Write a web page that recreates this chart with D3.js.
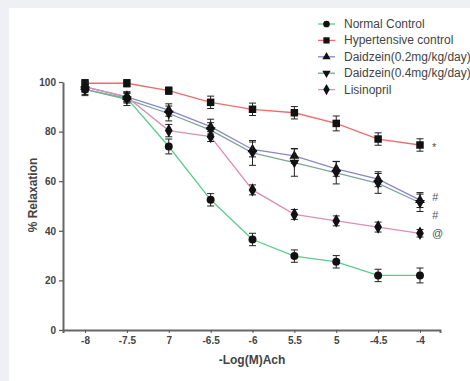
<!DOCTYPE html>
<html>
<head>
<meta charset="utf-8">
<script src="https://cdn.jsdelivr.net/npm/d3@7"></script>
<style>
  body { margin: 0; background: #eef0f3; overflow: hidden; }
  svg { display: block; }
</style>
</head>
<body>
<div id="chart"></div>
<script>
// concentrations and their printed labels (typos kept as in the figure)
const doses = [-8, -7.5, -7, -6.5, -6, -5.5, -5, -4.5, -4];
const doseLabels = ['-8', '-7.5', '7', '-6.5', '-6', '5.5', '5', '-4.5', '-4'];
const yTicks = [0, 20, 40, 60, 80, 100];

const seriesNames = ['Normal Control', 'Hypertensive control', 'Daidzein(0.2mg/kg/day)', 'Daidzein(0.4mg/kg/day)', 'Lisinopril'];
const normalControl = [97, 93.5, 74, 52.5, 36.5, 29.8, 27.5, 22, 22];
const normalErr = [2, 2, 3, 2.5, 2.5, 2.5, 2.5, 2.5, 3];
const hypertensive = [99.5, 99.5, 96.5, 91.8, 89, 87.6, 83.3, 77, 74.6];
const hypertensiveErr = [1.5, 1.5, 1.5, 2.5, 2.5, 2.5, 3, 2.5, 2.5];
const daidzein02 = [98, 94, 88.7, 82, 72.8, 70.2, 65, 60.8, 52.4];
const daidzein02Err = [2, 2, 2.5, 3, 3, 3, 3, 3, 3];
const daidzein04 = [97, 93, 87.3, 80.6, 71.4, 67.5, 63.4, 59.1, 51.3];
const daidzein04Err = [2.5, 2.5, 3, 3, 5, 5.5, 4.5, 4, 3.5];
const lisinopril = [98, 94, 80.4, 78, 56.5, 46.6, 44, 41.5, 39];
const lisinoprilErr = [2, 2, 2.5, 2, 2, 2, 2, 2, 1.5];
const notes = ['*', '#', '#', '@'];

const width = 470, height = 381;

const x = d3.scaleLinear().domain([-8.263, -3.761]).range([63, 440]);
const y = d3.scaleLinear().domain([0, 100]).range([330, 82]);

const svg = d3.select('#chart').append('svg')
    .attr('width', width)
    .attr('height', height)
    .style('font-family', '"Liberation Sans", Arial, sans-serif');

// white card on the grey page
svg.append('rect')
    .attr('x', 9).attr('y', 8)
    .attr('width', width - 9).attr('height', height - 8)
    .attr('fill', '#ffffff');

const series = [
    {name: seriesNames[0], values: normalControl, err: normalErr, color: '#5ccc8a', symbol: d3.symbolCircle, size: 50, rot: 0},
    {name: seriesNames[1], values: hypertensive, err: hypertensiveErr, color: '#f26a6a', symbol: d3.symbolSquare, size: 56, rot: 0},
    {name: seriesNames[2], values: daidzein02, err: daidzein02Err, color: '#8a86c6', symbol: d3.symbolTriangle, size: 42, rot: 0},
    {name: seriesNames[3], values: daidzein04, err: daidzein04Err, color: '#7fa49a', symbol: d3.symbolTriangle, size: 42, rot: 180},
    {name: seriesNames[4], values: lisinopril, err: lisinoprilErr, color: '#dc8fb6', symbol: d3.symbolDiamond, size: 52, rot: 0}
];

// X axis
const xAxis = svg.append('g')
    .attr('transform', 'translate(0,330)')
    .call(d3.axisBottom(x).tickValues(doses)
        .tickFormat((d, i) => doseLabels[i])
        .tickSize(3).tickPadding(4));
xAxis.select('.domain').attr('stroke', '#666').attr('stroke-width', 2);
xAxis.selectAll('.tick line').attr('stroke', '#555');
xAxis.selectAll('.tick text')
    .attr('fill', '#444')
    .style('font-size', '10px')
    .style('font-weight', 'bold');

// Y axis
const yAxis = svg.append('g')
    .attr('transform', 'translate(63,0)')
    .call(d3.axisLeft(y).tickValues(yTicks).tickSize(4).tickSizeOuter(0).tickPadding(3));
yAxis.select('.domain').attr('stroke', '#666').attr('stroke-width', 2);
yAxis.selectAll('.tick line').attr('stroke', '#555').attr('stroke-width', 1.2);
yAxis.selectAll('.tick text')
    .attr('fill', '#444')
    .style('font-size', '10px')
    .style('font-weight', 'bold');

// axis titles
svg.append('text')
    .attr('x', 252).attr('y', 364)
    .attr('text-anchor', 'middle')
    .attr('fill', '#444')
    .style('font-size', '12px')
    .style('font-weight', 'bold')
    .text('-Log(M)Ach');

svg.append('text')
    .attr('transform', 'translate(37,195) rotate(-90)')
    .attr('text-anchor', 'middle')
    .attr('fill', '#444')
    .style('font-size', '12px')
    .style('font-weight', 'bold')
    .text('% Relaxation');

const line = d3.line()
    .x((d, i) => x(doses[i]))
    .y(d => y(d));

// lines
series.forEach(s => {
    svg.append('path')
        .attr('d', line(s.values))
        .attr('fill', 'none')
        .attr('stroke', s.color)
        .attr('stroke-width', 1.3);
});

// error bars and markers
series.forEach(s => {
    const g = svg.append('g');
    s.values.forEach((v, i) => {
        const cx = x(doses[i]);
        const top = y(v + s.err[i]), bot = y(v - s.err[i]);
        g.append('line').attr('x1', cx).attr('x2', cx).attr('y1', top).attr('y2', bot)
            .attr('stroke', '#222').attr('stroke-width', 1);
        [top, bot].forEach(yy => {
            g.append('line').attr('x1', cx - 3.5).attr('x2', cx + 3.5).attr('y1', yy).attr('y2', yy)
                .attr('stroke', '#222').attr('stroke-width', 1);
        });
    });
    g.selectAll('path')
        .data(s.values)
        .enter().append('path')
        .attr('d', d3.symbol().type(s.symbol).size(s.size))
        .attr('transform', (d, i) => `translate(${x(doses[i])},${y(d)}) rotate(${s.rot})`)
        .attr('fill', '#111');
});

// significance marks at the last dose
const noteVals = [hypertensive[8], daidzein02[8], daidzein04[8], lisinopril[8]];
const noteDy = [2, -3, 12, 0];
notes.forEach((n, i) => {
    svg.append('text')
        .attr('x', x(-4) + 12)
        .attr('y', y(noteVals[i]) + 4 + noteDy[i])
        .attr('fill', '#555')
        .style('font-size', '11px')
        .style('font-style', n === '#' ? 'italic' : 'normal')
        .text(n);
});

// legend
const legend = svg.append('g').attr('transform', 'translate(318,24)');
series.forEach((s, i) => {
    const row = legend.append('g').attr('transform', `translate(0,${i * 16.4})`);
    row.append('line').attr('x1', 0).attr('x2', 17).attr('y1', 0).attr('y2', 0)
        .attr('stroke', s.color).attr('stroke-width', 1.3);
    row.append('path')
        .attr('d', d3.symbol().type(s.symbol).size(s.size * 0.7))
        .attr('transform', `translate(8.5,0) rotate(${s.rot})`)
        .attr('fill', '#111');
    row.append('text')
        .attr('x', 26).attr('y', 4)
        .attr('fill', '#444')
        .style('font-size', '12px')
        .text(s.name);
});
</script>
</body>
</html>
